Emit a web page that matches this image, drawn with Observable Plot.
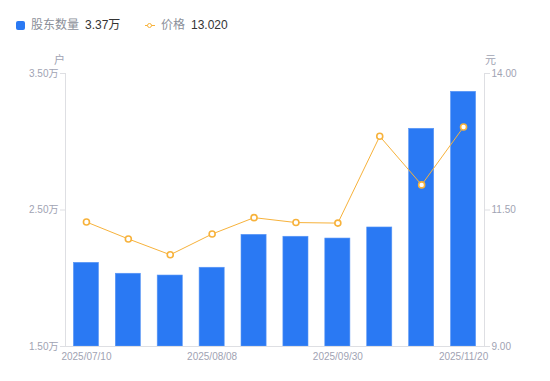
<!DOCTYPE html>
<html>
<head>
<meta charset="utf-8">
<script src="https://cdn.jsdelivr.net/npm/d3@7"></script>
<script src="https://cdn.jsdelivr.net/npm/@observablehq/plot@0.6"></script>
<style>
  html, body { margin: 0; padding: 0; background: #fff; }
  body { width: 550px; height: 381px; overflow: hidden; font-family: "Liberation Sans", Arial, "Noto Sans CJK SC", sans-serif; }
  #legend { position: relative; height: 45px; font-size: 12px; }
  .item { position: absolute; top: 18px; display: flex; align-items: center; white-space: nowrap; line-height: 15px; }
  .lab { color: #8b8f99; margin-right: 6px; }
  .val { color: #333; }
  .sq { width: 9px; height: 9px; border-radius: 2px; background: #2a79f3; margin-right: 6px; }
  .lm { position: relative; width: 10px; height: 10px; margin-right: 6px; }
  .lm .ln { position: absolute; left: 0; top: 4.5px; width: 10px; height: 1px; background: #f7b23b; }
  .lm .dt { position: absolute; left: 2px; top: 2px; width: 3px; height: 3px; border: 1.5px solid #f7b23b; border-radius: 50%; background: #fff; }
  #chart svg { display: block; }
</style>
</head>
<body>
<div id="legend">
  <div class="item" style="left:16px"><span class="sq"></span><span class="lab">股东数量</span><span class="val">3.37万</span></div>
  <div class="item" style="left:145px"><span class="lm"><span class="ln"></span><span class="dt"></span></span><span class="lab">价格</span><span class="val">13.020</span></div>
</div>
<div id="chart"></div>
<script>
const dates = ["2025/07/10","2025/07/20","2025/07/31","2025/08/08","2025/08/20","2025/09/10","2025/09/30","2025/10/20","2025/10/31","2025/11/20"];
const holders = [2.113, 2.033, 2.020, 2.077, 2.318, 2.304, 2.291, 2.372, 3.095, 3.366]; // 万户
const prices = [11.28, 10.97, 10.68, 11.06, 11.36, 11.27, 11.26, 12.85, 11.96, 13.02]; // 元
const xTickLabels = ["2025/07/10","2025/08/08","2025/09/30","2025/11/20"];
const leftTicks = [1.5, 2.5, 3.5];
const rightTicks = [9, 11.5, 14];

const leftDomain = [1.5, 3.5];
const rightDomain = [9, 14];
const toLeft = p => leftDomain[0] + (p - rightDomain[0]) / (rightDomain[1] - rightDomain[0]) * (leftDomain[1] - leftDomain[0]);
const toRight = v => rightDomain[0] + (v - leftDomain[0]) / (leftDomain[1] - leftDomain[0]) * (rightDomain[1] - rightDomain[0]);

const data = dates.map((d, i) => ({date: d, holders: holders[i], price: prices[i], py: toLeft(prices[i])}));

const axisColor = "#dedfe3";
const textColor = "#9fa3b3";

const plot = Plot.plot({
  width: 550,
  height: 336,
  marginLeft: 65,
  marginRight: 66,
  marginTop: 28,
  marginBottom: 35,
  style: {fontFamily: "'Liberation Sans', Arial, 'Noto Sans CJK SC', sans-serif", fontSize: "10px", background: "#fff"},
  x: {type: "band", domain: dates, padding: 0, round: false},
  y: {domain: leftDomain},
  marks: [
    Plot.barY(data, {x: "date", y1: leftDomain[0], y2: "holders", insetLeft: 8.4, insetRight: 8.4, fill: "#2a79f3", stroke: "#5b97f6", strokeWidth: 0.6}),
    Plot.frame({anchor: "left", stroke: axisColor}),
    Plot.frame({anchor: "right", stroke: axisColor}),
    Plot.frame({anchor: "bottom", stroke: axisColor}),
    Plot.axisY({anchor: "left", ticks: leftTicks, tickSize: 5, tickPadding: 2, stroke: axisColor, fill: textColor,
      tickFormat: d => d.toFixed(2) + "万", label: null}),
    Plot.axisY({anchor: "right", ticks: rightTicks.map(toLeft), tickSize: 5, tickPadding: 2, stroke: axisColor, fill: textColor,
      tickFormat: d => toRight(d).toFixed(2), label: null}),
    Plot.axisX({ticks: xTickLabels, tickSize: 0, tickPadding: 6, fill: textColor, label: null}),
    Plot.text(["户"], {frameAnchor: "top-left", textAnchor: "middle", dx: -6, dy: -17, fill: textColor, fontSize: 11}),
    Plot.text(["元"], {frameAnchor: "top-right", textAnchor: "middle", dx: 6, dy: -17, fill: textColor, fontSize: 11}),
    Plot.line(data, {x: "date", y: "py", stroke: "#f7b23b", strokeWidth: 1}),
    Plot.dot(data, {x: "date", y: "py", r: 3, fill: "#fff", stroke: "#f7b23b", strokeWidth: 1.6})
  ]
});
document.getElementById("chart").appendChild(plot);
</script>
</body>
</html>
